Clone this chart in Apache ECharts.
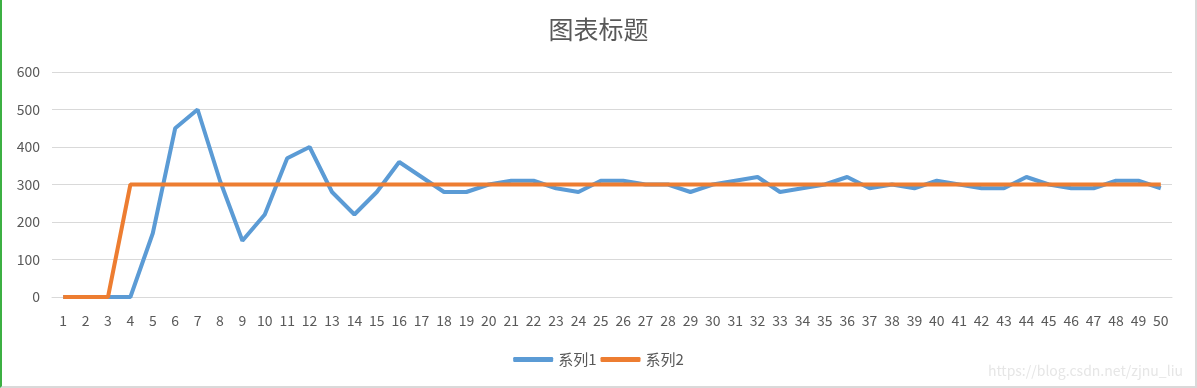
<!DOCTYPE html>
<html>
<head>
<meta charset="utf-8">
<script src="https://cdn.jsdelivr.net/npm/echarts@6/dist/echarts.min.js"></script>
<style>
html,body{margin:0;padding:0;background:#fff;}
#c{width:1197px;height:388px;box-sizing:border-box;border-left:2px solid #3cb043;border-right:2px solid #d9d9d9;border-bottom:2px solid #d9d9d9;}
</style>
</head>
<body>
<div id="c"></div>
<script>
const categories = Array.from({length: 50}, (_, i) => String(i + 1));
const series1 = [0,0,0,0,170,450,500,310,150,220,370,400,280,220,280,360,320,280,280,300,310,310,290,280,310,310,300,300,280,300,310,320,280,290,300,320,290,300,290,310,300,290,290,320,300,290,290,310,310,290];
const series2 = [0,0,0,300,300,300,300,300,300,300,300,300,300,300,300,300,300,300,300,300,300,300,300,300,300,300,300,300,300,300,300,300,300,300,300,300,300,300,300,300,300,300,300,300,300,300,300,300,300,300];
const seriesNames = ['系列1', '系列2'];
const yTicks = [0, 100, 200, 300, 400, 500, 600];

const font = '"Noto Sans CJK SC", "Microsoft YaHei", sans-serif';
const chart = echarts.init(document.getElementById('c'));
chart.setOption({
  animation: false,
  title: {
    text: '图表标题', left: 'center', top: 12,
    textStyle: {color: '#595959', fontSize: 25, fontWeight: 'normal', fontFamily: font}
  },
  legend: {
    bottom: 14, left: 'center', itemWidth: 40, itemHeight: 5, itemGap: 4,
    icon: 'roundRect',
    textStyle: {color: '#595959', fontSize: 15, fontFamily: font},
    data: seriesNames
  },
  grid: {left: 50, right: 23, top: 72, bottom: 89},
  xAxis: {
    type: 'category', data: categories, boundaryGap: true,
    axisLine: {lineStyle: {color: '#d9d9d9'}},
    axisTick: {show: false},
    axisLabel: {color: '#595959', fontSize: 14, interval: 0, margin: 17, fontFamily: font}
  },
  yAxis: {
    type: 'value', min: yTicks[0], max: yTicks[yTicks.length - 1], interval: 100,
    axisLine: {show: false}, axisTick: {show: false},
    splitLine: {lineStyle: {color: '#d9d9d9'}},
    axisLabel: {color: '#595959', fontSize: 14, margin: 12, fontFamily: font}
  },
  graphic: [{
    type: 'text', right: 12, bottom: 8,
    style: {text: 'https://blog.csdn.net/zjnu_liu', fill: '#e6e6e6', fontSize: 14, fontFamily: font}
  }],
  series: [
    {name: seriesNames[0], type: 'line', data: series1, showSymbol: false, symbol: 'none',
     lineStyle: {color: '#5B9BD5', width: 4}, itemStyle: {color: '#5B9BD5'}},
    {name: seriesNames[1], type: 'line', data: series2, showSymbol: false, symbol: 'none',
     lineStyle: {color: '#ED7D31', width: 4}, itemStyle: {color: '#ED7D31'}}
  ]
});
</script>
</body>
</html>
